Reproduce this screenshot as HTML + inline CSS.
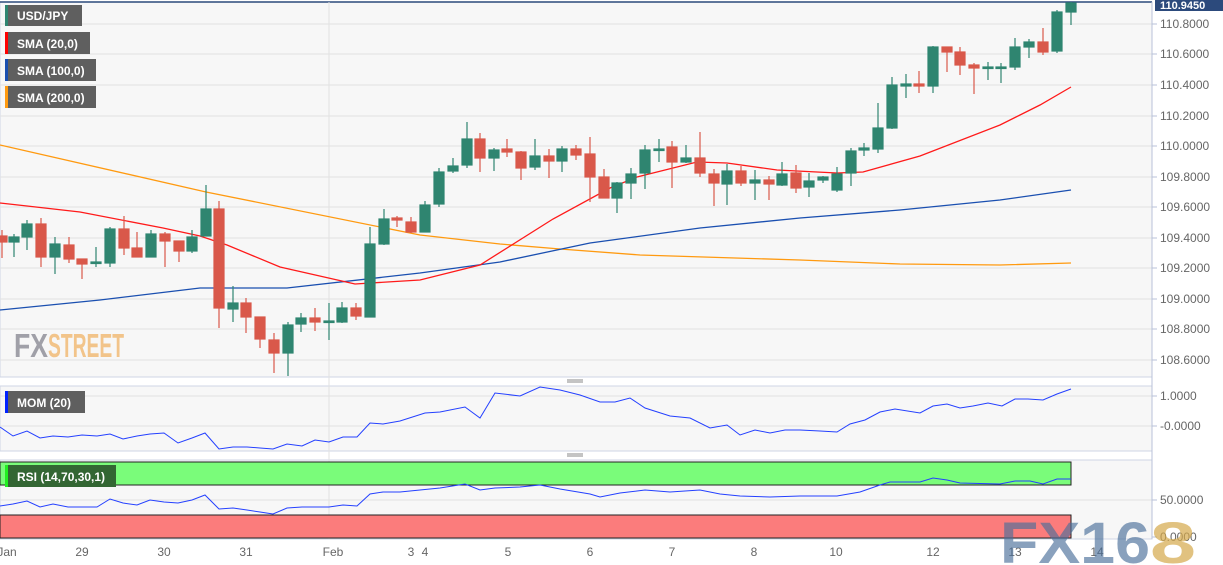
<!DOCTYPE html>
<html><head><meta charset="utf-8"><style>
html,body{margin:0;padding:0;background:#fff;}
svg{display:block;font-family:"Liberation Sans",Arial,sans-serif;}
</style></head><body>
<svg width="1223" height="565" viewBox="0 0 1223 565" xmlns="http://www.w3.org/2000/svg">
<rect width="1223" height="565" fill="#fff"/>
<rect x="0" y="2" width="1152" height="375" fill="#f7f7f7" stroke="#cfd6e6"/>
<rect x="0" y="386" width="1152" height="65" fill="#f7f7f7" stroke="#cfd6e6"/>
<rect x="0" y="460" width="1152" height="79" fill="#f7f7f7" stroke="#cfd6e6"/>
<line x1="0" y1="2" x2="1152" y2="2" stroke="#2c4a7c" stroke-width="1.5"/>
<g stroke="#e2e2e2" stroke-width="1">
<line x1="0" y1="24" x2="1152" y2="24"/><line x1="0" y1="54" x2="1152" y2="54"/><line x1="0" y1="85" x2="1152" y2="85"/><line x1="0" y1="116" x2="1152" y2="116"/><line x1="0" y1="146" x2="1152" y2="146"/><line x1="0" y1="177" x2="1152" y2="177"/><line x1="0" y1="207" x2="1152" y2="207"/><line x1="0" y1="238" x2="1152" y2="238"/><line x1="0" y1="268" x2="1152" y2="268"/><line x1="0" y1="299" x2="1152" y2="299"/><line x1="0" y1="329" x2="1152" y2="329"/><line x1="0" y1="360" x2="1152" y2="360"/>
<line x1="0" y1="396" x2="1152" y2="396"/><line x1="0" y1="426" x2="1152" y2="426"/>
<line x1="0" y1="500" x2="1152" y2="500"/>
<line x1="329" y1="2" x2="329" y2="539"/>
</g>
<g stroke="#b8c2d8"><line x1="1152" y1="2" x2="1152" y2="539"/>
<line x1="1152" y1="24" x2="1157" y2="24"/><line x1="1152" y1="54" x2="1157" y2="54"/><line x1="1152" y1="85" x2="1157" y2="85"/><line x1="1152" y1="116" x2="1157" y2="116"/><line x1="1152" y1="146" x2="1157" y2="146"/><line x1="1152" y1="177" x2="1157" y2="177"/><line x1="1152" y1="207" x2="1157" y2="207"/><line x1="1152" y1="238" x2="1157" y2="238"/><line x1="1152" y1="268" x2="1157" y2="268"/><line x1="1152" y1="299" x2="1157" y2="299"/><line x1="1152" y1="329" x2="1157" y2="329"/><line x1="1152" y1="360" x2="1157" y2="360"/><line x1="1152" y1="396" x2="1157" y2="396"/><line x1="1152" y1="426" x2="1157" y2="426"/><line x1="1152" y1="500" x2="1157" y2="500"/><line x1="1152" y1="537" x2="1157" y2="537"/></g>
<g fill="#666" font-size="12">
<text x="1160" y="28">110.8000</text><text x="1160" y="58">110.6000</text><text x="1160" y="89">110.4000</text><text x="1160" y="120">110.2000</text><text x="1160" y="150">110.0000</text><text x="1160" y="181">109.8000</text><text x="1160" y="211">109.6000</text><text x="1160" y="242">109.4000</text><text x="1160" y="272">109.2000</text><text x="1160" y="303">109.0000</text><text x="1160" y="333">108.8000</text><text x="1160" y="364">108.6000</text>
<text x="1160" y="400">1.0000</text><text x="1160" y="430">-0.0000</text><text x="1160" y="504">50.0000</text><text x="1160" y="541">0.0000</text>
</g>
<rect x="1155" y="0" width="68" height="11" fill="#2c4a7c"/>
<text x="1160" y="9" fill="#fff" font-size="11" font-weight="bold">110.9450</text>
<g fill="#666" font-size="12" text-anchor="middle">
<text x="7" y="556">Jan</text><text x="82" y="556">29</text><text x="164" y="556">30</text><text x="246" y="556">31</text><text x="333" y="556">Feb</text><text x="411" y="556">3</text><text x="425" y="556">4</text><text x="508" y="556">5</text><text x="590" y="556">6</text><text x="672" y="556">7</text><text x="754" y="556">8</text><text x="836" y="556">10</text><text x="933" y="556">12</text><text x="1015" y="556">13</text><text x="1097" y="556">14</text>
</g>
<rect x="0" y="462" width="1071" height="23" fill="#7afc7a" stroke="#222" stroke-width="1"/>
<rect x="0" y="515" width="1071" height="23" fill="#fb7c7c" stroke="#222" stroke-width="1"/>
<text x="14" y="357" font-size="33" font-weight="bold" fill="#a0a0a8" textLength="34" lengthAdjust="spacingAndGlyphs">FX</text>
<text x="48" y="357" font-size="33" font-weight="bold" fill="#f2c48a" textLength="76" lengthAdjust="spacingAndGlyphs">STREET</text>
<polyline fill="none" stroke="#ff9a10" stroke-width="1.3" points="0,145 206,192 420,235 500,244 560,249 640,255 800,260 900,264 1000,265 1071,263"/>
<polyline fill="none" stroke="#1a4fb0" stroke-width="1.3" points="0,310 100,300 200,288 287,288 420,273 500,262 590,243 700,228 800,218 900,210 1000,200 1071,190"/>
<polyline fill="none" stroke="#ff1a1a" stroke-width="1.3" points="0,203 27,206 80,212 163,228 200,236 227,245 280,267 355,284 420,280 480,265 553,219 610,188 637,177 697,162 727,163 777,170 837,173 863,172 920,156 1000,125 1040,105 1071,87"/>
<g stroke-width="1.2">
<g stroke="#d9584a" fill="#d9584a">
<line x1="2" y1="230" x2="2" y2="258"/><rect x="-3" y="236" width="10" height="6"/>
<line x1="41" y1="218" x2="41" y2="267"/><rect x="36" y="224" width="10" height="33"/>
<line x1="69" y1="237" x2="69" y2="263"/><rect x="64" y="245" width="10" height="14"/>
<line x1="82" y1="259" x2="82" y2="279"/><rect x="77" y="259" width="10" height="5"/>
<line x1="124" y1="216" x2="124" y2="255"/><rect x="119" y="229" width="10" height="19"/>
<line x1="137" y1="232" x2="137" y2="257"/><rect x="132" y="248" width="10" height="9"/>
<line x1="165" y1="232" x2="165" y2="267"/><rect x="160" y="234" width="10" height="7"/>
<line x1="179" y1="241" x2="179" y2="262"/><rect x="174" y="241" width="10" height="10"/>
<line x1="219" y1="201" x2="219" y2="328"/><rect x="214" y="209" width="10" height="99"/>
<line x1="246" y1="298" x2="246" y2="333"/><rect x="241" y="303" width="10" height="14"/>
<line x1="260" y1="317" x2="260" y2="348"/><rect x="255" y="317" width="10" height="22"/>
<line x1="274" y1="333" x2="274" y2="373"/><rect x="269" y="340" width="10" height="13"/>
<line x1="315" y1="308" x2="315" y2="331"/><rect x="310" y="318" width="10" height="4"/>
<line x1="356" y1="303" x2="356" y2="320"/><rect x="351" y="308" width="10" height="8"/>
<line x1="397" y1="216" x2="397" y2="227"/><rect x="392" y="218" width="10" height="2"/>
<line x1="411" y1="217" x2="411" y2="233"/><rect x="406" y="222" width="10" height="10"/>
<line x1="480" y1="133" x2="480" y2="172"/><rect x="475" y="139" width="10" height="19"/>
<line x1="507" y1="139" x2="507" y2="157"/><rect x="502" y="149" width="10" height="3"/>
<line x1="521" y1="151" x2="521" y2="180"/><rect x="516" y="152" width="10" height="16"/>
<line x1="549" y1="149" x2="549" y2="178"/><rect x="544" y="156" width="10" height="5"/>
<line x1="576" y1="145" x2="576" y2="160"/><rect x="571" y="149" width="10" height="6"/>
<line x1="590" y1="137" x2="590" y2="202"/><rect x="585" y="154" width="10" height="23"/>
<line x1="604" y1="169" x2="604" y2="198"/><rect x="599" y="177" width="10" height="21"/>
<line x1="672" y1="141" x2="672" y2="188"/><rect x="667" y="147" width="10" height="15"/>
<line x1="700" y1="132" x2="700" y2="177"/><rect x="695" y="158" width="10" height="15"/>
<line x1="714" y1="169" x2="714" y2="206"/><rect x="709" y="174" width="10" height="9"/>
<line x1="741" y1="166" x2="741" y2="186"/><rect x="736" y="171" width="10" height="12"/>
<line x1="769" y1="176" x2="769" y2="200"/><rect x="764" y="180" width="10" height="4"/>
<line x1="796" y1="165" x2="796" y2="193"/><rect x="791" y="173" width="10" height="15"/>
<line x1="919" y1="71" x2="919" y2="93"/><rect x="914" y="84" width="10" height="2"/>
<line x1="947" y1="47" x2="947" y2="72"/><rect x="942" y="47" width="10" height="5"/>
<line x1="960" y1="47" x2="960" y2="75"/><rect x="955" y="52" width="10" height="13"/>
<line x1="974" y1="63" x2="974" y2="94"/><rect x="969" y="65" width="10" height="3"/>
<line x1="1043" y1="28" x2="1043" y2="55"/><rect x="1038" y="42" width="10" height="10"/>
</g>
<g stroke="#2f8570" fill="#2f8570">
<line x1="14" y1="234" x2="14" y2="257"/><rect x="9" y="237" width="10" height="5"/>
<line x1="27" y1="220" x2="27" y2="250"/><rect x="22" y="224" width="10" height="13"/>
<line x1="55" y1="237" x2="55" y2="274"/><rect x="50" y="244" width="10" height="13"/>
<line x1="96" y1="247" x2="96" y2="267"/><rect x="91" y="262" width="10" height="1.5"/>
<line x1="110" y1="227" x2="110" y2="267"/><rect x="105" y="229" width="10" height="34"/>
<line x1="151" y1="230" x2="151" y2="257"/><rect x="146" y="234" width="10" height="23"/>
<line x1="192" y1="230" x2="192" y2="253"/><rect x="187" y="237" width="10" height="14"/>
<line x1="206" y1="185" x2="206" y2="236"/><rect x="201" y="209" width="10" height="27"/>
<line x1="233" y1="286" x2="233" y2="322"/><rect x="228" y="303" width="10" height="6"/>
<line x1="288" y1="322" x2="288" y2="376"/><rect x="283" y="325" width="10" height="28"/>
<line x1="301" y1="313" x2="301" y2="332"/><rect x="296" y="318" width="10" height="6"/>
<line x1="329" y1="303" x2="329" y2="340"/><rect x="324" y="321" width="10" height="1.5"/>
<line x1="342" y1="302" x2="342" y2="323"/><rect x="337" y="308" width="10" height="14"/>
<line x1="370" y1="227" x2="370" y2="317"/><rect x="365" y="244" width="10" height="73"/>
<line x1="384" y1="209" x2="384" y2="245"/><rect x="379" y="219" width="10" height="25"/>
<line x1="425" y1="201" x2="425" y2="232"/><rect x="420" y="205" width="10" height="27"/>
<line x1="439" y1="168" x2="439" y2="207"/><rect x="434" y="172" width="10" height="32"/>
<line x1="453" y1="158" x2="453" y2="173"/><rect x="448" y="166" width="10" height="5"/>
<line x1="467" y1="122" x2="467" y2="168"/><rect x="462" y="139" width="10" height="26"/>
<line x1="494" y1="148" x2="494" y2="171"/><rect x="489" y="150" width="10" height="8"/>
<line x1="535" y1="139" x2="535" y2="170"/><rect x="530" y="156" width="10" height="11"/>
<line x1="562" y1="146" x2="562" y2="172"/><rect x="557" y="149" width="10" height="12"/>
<line x1="617" y1="182" x2="617" y2="213"/><rect x="612" y="183" width="10" height="15"/>
<line x1="631" y1="168" x2="631" y2="199"/><rect x="626" y="174" width="10" height="9"/>
<line x1="645" y1="145" x2="645" y2="189"/><rect x="640" y="150" width="10" height="23"/>
<line x1="659" y1="139" x2="659" y2="162"/><rect x="654" y="149" width="10" height="1.5"/>
<line x1="686" y1="145" x2="686" y2="163"/><rect x="681" y="158" width="10" height="4"/>
<line x1="727" y1="164" x2="727" y2="205"/><rect x="722" y="171" width="10" height="13"/>
<line x1="755" y1="170" x2="755" y2="200"/><rect x="750" y="180" width="10" height="3"/>
<line x1="782" y1="162" x2="782" y2="186"/><rect x="777" y="174" width="10" height="11"/>
<line x1="809" y1="173" x2="809" y2="197"/><rect x="804" y="181" width="10" height="6"/>
<line x1="823" y1="176" x2="823" y2="183"/><rect x="818" y="177" width="10" height="3"/>
<line x1="837" y1="167" x2="837" y2="192"/><rect x="832" y="174" width="10" height="16"/>
<line x1="851" y1="148" x2="851" y2="186"/><rect x="846" y="151" width="10" height="22"/>
<line x1="864" y1="143" x2="864" y2="156"/><rect x="859" y="148" width="10" height="2"/>
<line x1="878" y1="103" x2="878" y2="153"/><rect x="873" y="128" width="10" height="21"/>
<line x1="892" y1="77" x2="892" y2="129"/><rect x="887" y="85" width="10" height="43"/>
<line x1="906" y1="74" x2="906" y2="98"/><rect x="901" y="84" width="10" height="2"/>
<line x1="933" y1="46" x2="933" y2="93"/><rect x="928" y="47" width="10" height="39"/>
<line x1="988" y1="62" x2="988" y2="80"/><rect x="983" y="67" width="10" height="1.5"/>
<line x1="1001" y1="63" x2="1001" y2="83"/><rect x="996" y="67" width="10" height="1.5"/>
<line x1="1015" y1="38" x2="1015" y2="70"/><rect x="1010" y="47" width="10" height="20"/>
<line x1="1029" y1="39" x2="1029" y2="58"/><rect x="1024" y="42" width="10" height="5"/>
<line x1="1057" y1="10" x2="1057" y2="53"/><rect x="1052" y="12" width="10" height="39"/>
<line x1="1071" y1="2" x2="1071" y2="25"/><rect x="1066" y="3" width="10" height="9"/>
</g>
</g>
<polyline fill="none" stroke="#2440ff" stroke-width="1" points="0,427 13,436 27,431 40,438 53,436 68,437 82,435 97,436 110,434 123,439 137,436 150,434 164,433 178,443 192,438 205,433 219,449 233,447 247,447 260,448 273,449 287,444 302,446 315,440 329,442 343,437 357,437 370,423 383,424 400,421 425,413 440,412 465,407 480,418 495,393 520,396 540,387 560,390 580,395 600,402 615,402 630,398 645,408 670,416 690,418 710,428 727,425 740,435 755,430 770,433 785,430 800,430 820,431 837,432 850,424 865,420 880,412 895,409 920,413 933,406 947,404 960,408 973,406 988,403 1002,406 1015,399 1028,399 1043,400 1057,394 1071,389"/>
<polyline fill="none" stroke="#2440ff" stroke-width="1" points="0,506 13,504 27,501 40,507 53,504 68,507 82,507 97,507 110,499 123,503 137,505 150,500 164,502 178,503 192,500 205,495 219,509 233,508 247,510 260,512 273,514 287,508 302,507 315,507 329,507 343,505 357,506 370,494 383,492 400,492 420,490 440,488 465,484 480,490 495,488 520,487 540,485 560,489 590,494 600,497 620,493 645,490 670,492 700,490 720,494 740,496 770,497 800,496 837,496 860,492 880,485 890,482 920,482 933,478 947,480 960,483 1000,484 1015,481 1030,481 1043,484 1057,479 1071,479"/>
<g font-size="12" font-weight="bold" fill="#fff">
<rect x="5" y="5" width="77" height="21" fill="#5f5f5f"/><rect x="5" y="5" width="3" height="21" fill="#2f8570"/><text x="17" y="20">USD/JPY</text>
<rect x="5" y="32" width="85" height="22" fill="#5f5f5f"/><rect x="5" y="32" width="3" height="22" fill="#ff0000"/><text x="17" y="48">SMA (20,0)</text>
<rect x="5" y="59" width="91" height="22" fill="#5f5f5f"/><rect x="5" y="59" width="3" height="22" fill="#1a4fb0"/><text x="17" y="75">SMA (100,0)</text>
<rect x="5" y="86" width="91" height="22" fill="#5f5f5f"/><rect x="5" y="86" width="3" height="22" fill="#ff9a10"/><text x="17" y="102">SMA (200,0)</text>
<rect x="5" y="391" width="80" height="22" fill="#5f5f5f"/><rect x="5" y="391" width="3" height="22" fill="#0022ff"/><text x="17" y="407">MOM (20)</text>
<rect x="5" y="465" width="111" height="22" fill="#336633"/><rect x="5" y="465" width="3" height="22" fill="#22ee22"/><text x="17" y="481">RSI (14,70,30,1)</text>
</g>
<g stroke="#888"><line x1="567" y1="380" x2="583" y2="380"/><line x1="567" y1="382" x2="583" y2="382"/><line x1="567" y1="454" x2="583" y2="454"/><line x1="567" y1="456" x2="583" y2="456"/></g>
<text x="1000" y="563" font-size="58" font-weight="bold" fill="#4a6f9a" fill-opacity="0.65" textLength="150" lengthAdjust="spacingAndGlyphs">FX16</text>
<text x="1150" y="563" font-size="58" font-weight="bold" fill="#d4a84a" fill-opacity="0.7" textLength="46" lengthAdjust="spacingAndGlyphs">8</text>
</svg>
</body></html>
